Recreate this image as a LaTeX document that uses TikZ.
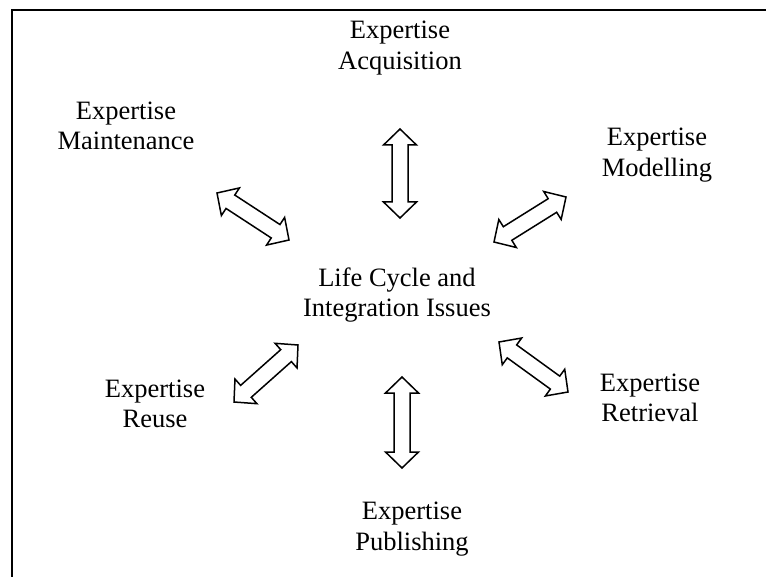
\documentclass[tikz,border=0pt]{standalone}
\usepackage{fontspec}
\setmainfont{Liberation Serif}
\usetikzlibrary{calc}
\tikzset{
  x=1pt, y=-1pt,
  label text/.style={align=center, inner sep=0pt,
    font=\fontsize{26.5}{30.5}\selectfont},
  frame line/.style={line width=1.5pt},
  fat arrow/.style={draw, line width=1.5pt, line join=miter, fill=white}
}
% hollow double-headed arrow between two named coordinates
\newcommand{\hollowarrow}[2]{%
  \path[fat arrow]
    (#1)
    -- ($($(#1)!16pt!(#2)$)!16.5pt!90:(#2)$)
    -- ($($(#1)!16pt!(#2)$)!8pt!90:(#2)$)
    -- ($($(#2)!16pt!(#1)$)!8pt!-90:(#1)$)
    -- ($($(#2)!16pt!(#1)$)!16.5pt!-90:(#1)$)
    -- (#2)
    -- ($($(#2)!16pt!(#1)$)!16.5pt!90:(#1)$)
    -- ($($(#2)!16pt!(#1)$)!8pt!90:(#1)$)
    -- ($($(#1)!16pt!(#2)$)!8pt!-90:(#2)$)
    -- ($($(#1)!16pt!(#2)$)!16.5pt!-90:(#2)$)
    -- cycle;}
\begin{document}
\begin{tikzpicture}
\useasboundingbox (0,0) rectangle (766,577);
% partial frame
\coordinate (fbl) at (12,577);
\coordinate (ftl) at (12,10);
\coordinate (ftr) at (766,10);
\draw[frame line] (fbl) -- (ftl) -- (ftr);

% labels
\node[label text] (centre) at (397,295) {Life Cycle and\\Integration Issues};
\node[label text] (acq) at (400,48) {Expertise\\Acquisition};
\node[label text] (maint) at (126,126) {Expertise\\Maintenance};
\node[label text] (model) at (657,155) {Expertise\\Modelling};
\node[label text] (reuse) at (155,404) {Expertise\\Reuse};
\node[label text] (retr) at (650,398) {Expertise\\Retrieval};
\node[label text] (publ) at (412,529) {Expertise\\Publishing};

% arrow end points
\coordinate (a1) at (400,129);  \coordinate (b1) at (400,218);
\coordinate (a2) at (217,193);  \coordinate (b2) at (289,240);
\coordinate (a3) at (566,197);  \coordinate (b3) at (494,242);
\coordinate (a4) at (298,345);  \coordinate (b4) at (234,402);
\coordinate (a5) at (499,342);  \coordinate (b5) at (568,392);
\coordinate (a6) at (402,377);  \coordinate (b6) at (402,468);

\hollowarrow{a1}{b1}
\hollowarrow{a2}{b2}
\hollowarrow{a3}{b3}
\hollowarrow{a4}{b4}
\hollowarrow{a5}{b5}
\hollowarrow{a6}{b6}
\end{tikzpicture}
\end{document}
